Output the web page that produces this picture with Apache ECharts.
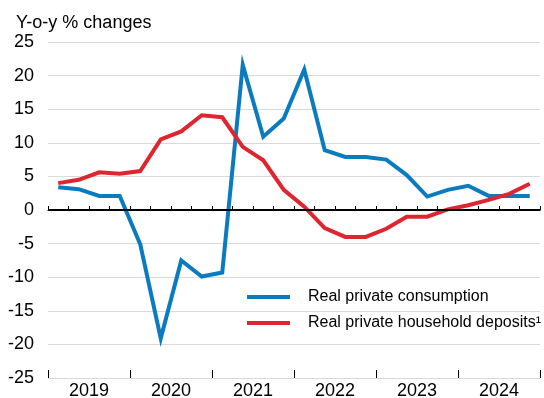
<!DOCTYPE html>
<html>
<head>
<meta charset="utf-8">
<script src="https://cdn.jsdelivr.net/npm/echarts@6/dist/echarts.min.js"></script>
<style>
html,body{margin:0;padding:0;background:#fff;}
#c{width:544px;height:398px;}
</style>
</head>
<body>
<div id="c"></div>
<script>
var years = ['2019','2020','2021','2022','2023','2024'];
var quarters = [];
years.forEach(function(y){ ['Q1','Q2','Q3','Q4'].forEach(function(q){ quarters.push(y + q); }); });
var consumption = [3.4, 3.1, 2.1, 2.1, -5.1, -19.1, -7.5, -9.9, -9.3, 21.6, 10.9, 13.6, 20.9, 8.9, 7.9, 7.9, 7.5, 5.2, 2.0, 3.0, 3.6, 2.1, 2.1, 2.1];
var deposits = [4.0, 4.5, 5.6, 5.4, 5.8, 10.5, 11.7, 14.1, 13.8, 9.4, 7.4, 3.0, 0.5, -2.7, -4.0, -4.0, -2.8, -1.0, -1.0, 0.1, 0.7, 1.5, 2.4, 3.9];
var seriesNames = ['Real private consumption', 'Real private household deposits\u00B9'];
var titleText = 'Y-o-y % changes';

var FONT = '"Liberation Sans", Arial, sans-serif';
var chart = echarts.init(document.getElementById('c'), null, {renderer: 'canvas'});
chart.setOption({
  animation: false,
  backgroundColor: '#fff',
  title: {
    text: titleText, left: 11, top: 9,
    textStyle: {fontFamily: FONT, fontSize: 18, fontWeight: 'normal', color: '#000'}
  },
  legend: {
    orient: 'vertical', left: 247, top: 289, itemGap: 10, padding: 0,
    itemWidth: 43, itemHeight: 4, icon: 'rect',
    textStyle: {fontFamily: FONT, fontSize: 16, color: '#000', padding: [0, 0, 0, 13], lineHeight: 16},
    data: seriesNames
  },
  grid: {left: 48, right: 4, top: 42, bottom: 20, outerBoundsMode: 'none', containLabel: false},
  xAxis: [{
    type: 'category', data: quarters, boundaryGap: true, position: 'bottom',
    axisLine: {show: true, lineStyle: {color: '#000', width: 1}},
    axisTick: {show: true, inside: true, length: 4, interval: 0, lineStyle: {color: '#000'}},
    axisLabel: {show: false}, splitLine: {show: false}
  }, {
    type: 'category', data: years, boundaryGap: true, position: 'bottom',
    axisLine: {show: false},
    axisTick: {show: true, inside: true, length: 8, interval: 0, lineStyle: {color: '#000'}},
    axisLabel: {show: true, fontFamily: FONT, fontSize: 18, color: '#000', margin: 4},
    splitLine: {show: false}
  }],
  yAxis: {
    type: 'value', min: -25, max: 25, interval: 5,
    axisLine: {show: false}, axisTick: {show: false},
    axisLabel: {fontFamily: FONT, fontSize: 18, color: '#000', margin: 14},
    splitLine: {show: true, lineStyle: {color: '#d9d9d9', width: 1}}
  },
  series: [{
    name: seriesNames[0], type: 'line', data: consumption, xAxisIndex: 0,
    symbol: 'none', color: '#0a7bbf',
    lineStyle: {width: 4, color: '#0a7bbf', join: 'miter'},
    markLine: {
      silent: true, symbol: 'none', label: {show: false},
      lineStyle: {color: '#000', width: 2, type: 'solid'},
      data: [{yAxis: 0}]
    },
    z: 3
  }, {
    name: seriesNames[1], type: 'line', data: deposits, xAxisIndex: 0,
    symbol: 'none', color: '#dd2630',
    lineStyle: {width: 4, color: '#dd2630', join: 'miter'},
    z: 4
  }]
});
</script>
</body>
</html>
